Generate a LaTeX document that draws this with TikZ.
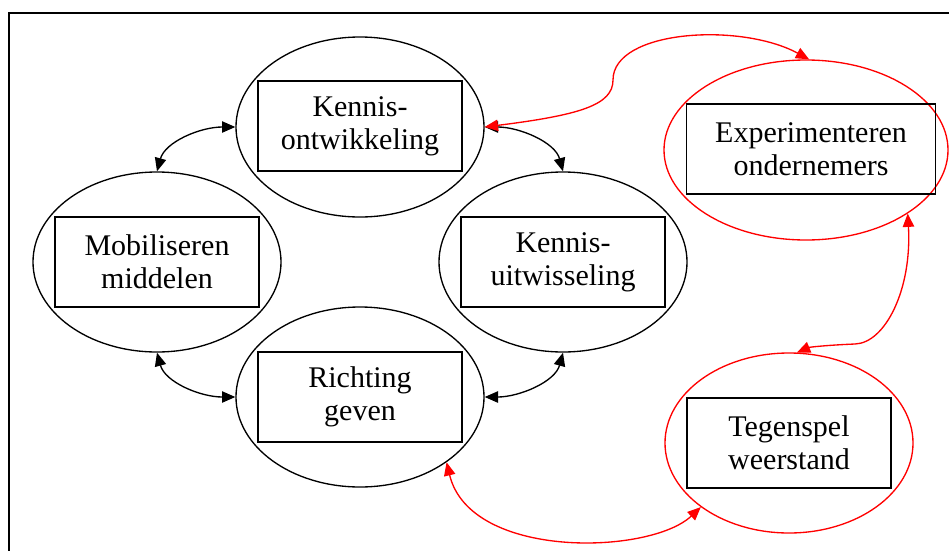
\documentclass[tikz,border=0pt]{standalone}
\usepackage{fontspec}
\setmainfont{Liberation Serif}
\usetikzlibrary{shapes.geometric,arrows.meta}

\tikzset{
  ell/.style={ellipse, draw, line width=1pt, inner sep=0pt,
              minimum width=186pt, minimum height=135pt},
  redell/.style={ell, draw=red},
  box/.style={rectangle, draw, line width=1.1pt, inner sep=0pt,
              minimum width=153pt, minimum height=67.5pt, align=center,
              font=\fontsize{22.5}{25}\selectfont},
  link/.style={line width=1pt, {Triangle[length=10pt,width=8.5pt]}-{Triangle[length=10pt,width=8.5pt]}},
  redlink/.style={link, draw=red},
}

\begin{document}
\begin{tikzpicture}[x=0.75pt, y=-0.75pt]
  \useasboundingbox (0,0) rectangle (949,550);
  \clip (0,0) rectangle (949,550);
  \fill[white] (0,0) rectangle (949,550);

  % outer frame, running past the page on the right and at the bottom
  \draw[line width=1.1pt] (9,13) rectangle (1000,600);

  % the four functions in a ring
  \node[ell] (ko) at (360,127) {};
  \node[box] (kob) at (360,126) {Kennis-\\ontwikkeling};

  \node[ell] (mm) at (157,262) {};
  \node[box] (mmb) at (157,262) {Mobiliseren\\middelen};

  \node[ell] (ku) at (563,262) {};
  \node[box] (kub) at (563,262) {Kennis-\\uitwisseling};

  \node[ell] (ri) at (360,397) {};
  \node[box] (rib) at (360,397) {Richting\\geven};

  % the two outside actors
  \node[redell, minimum width=213pt] (ex) at (806,150) {};
  \node[box, minimum width=187pt] (exb) at (811,149) {Experimenteren\\ondernemers};

  \node[redell] (te) at (789,443) {};
  \node[box] (teb) at (789,443) {Tegenspel\\weerstand};

  % ring connectors
  \draw[link] (mm.north) .. controls (165,142) and (200,127) .. (ko.west);
  \draw[link] (ko.east) .. controls (519,127) and (555,142) .. (ku.north);
  \draw[link] (mm.south) .. controls (165,382) and (200,397) .. (ri.west);
  \draw[link] (ku.south) .. controls (555,382) and (519,397) .. (ri.east);

  % connectors to the outside actors
  \draw[redlink] (ko.east) .. controls (580,115) and (613,105) .. (613,80)
                 .. controls (613,30) and (740,22) .. (ex.88);
  \draw[redlink] (ex.-32) .. controls (912,290) and (885,343) .. (855,344)
                 .. controls (830,345) and (810,347) .. (te.85);
  \draw[redlink] (ri.-37) .. controls (470,560) and (650,555) .. (te.216);
\end{tikzpicture}
\end{document}
